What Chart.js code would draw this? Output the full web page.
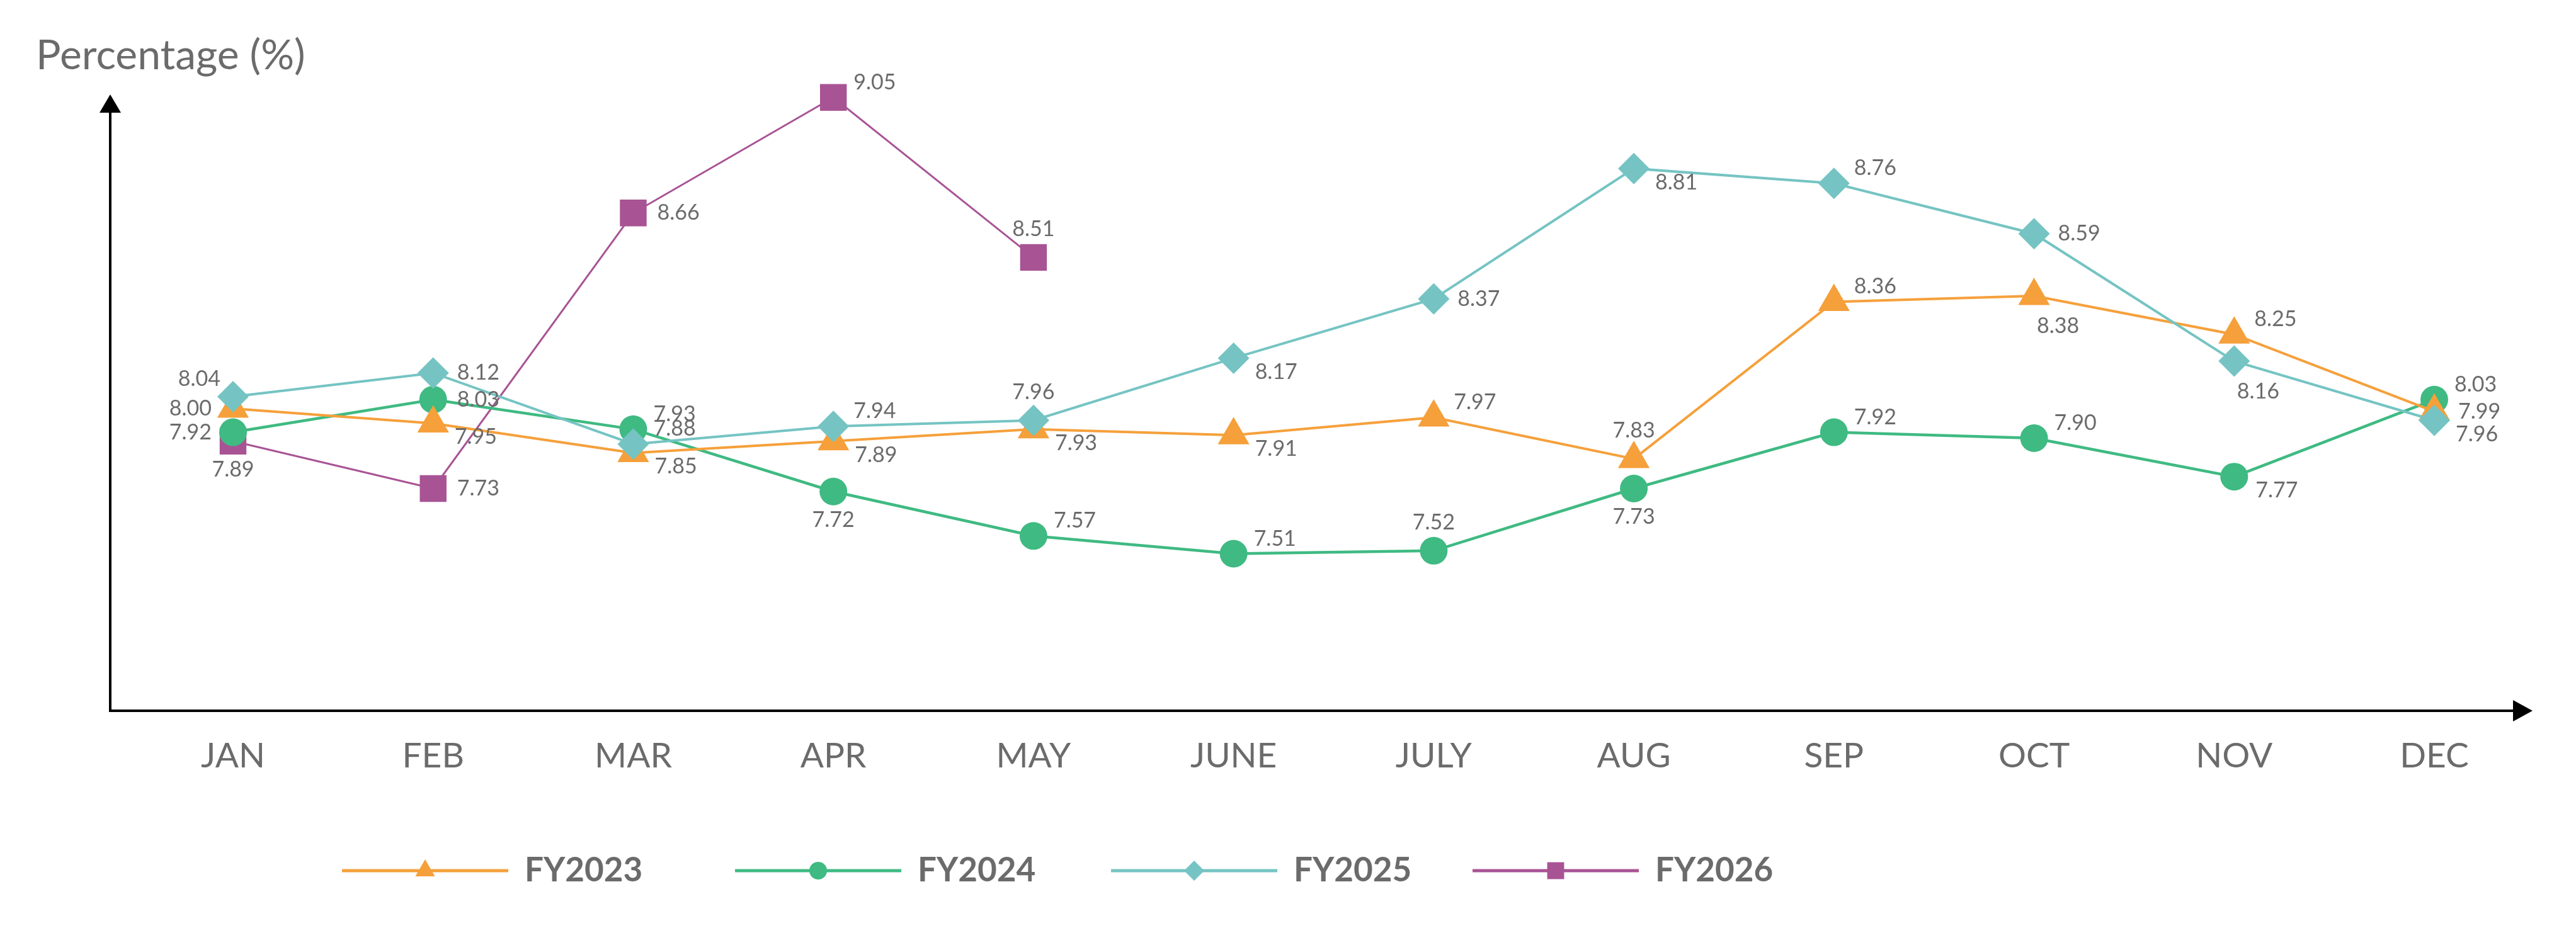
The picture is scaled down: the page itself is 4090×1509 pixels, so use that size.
<!DOCTYPE html>
<html>
<head>
<meta charset="utf-8">
<script src="https://cdn.jsdelivr.net/npm/chart.js@4.4.1/dist/chart.umd.min.js"></script>
<style>
html, body { margin: 0; padding: 0; background: #fff; }
</style>
</head>
<body>
<canvas id="rateChart" width="4090" height="1509"></canvas>
<script>
const months = ['JAN', 'FEB', 'MAR', 'APR', 'MAY', 'JUNE', 'JULY', 'AUG', 'SEP', 'OCT', 'NOV', 'DEC'];

const fy2023 = [8.00, 7.95, 7.85, 7.89, 7.93, 7.91, 7.97, 7.83, 8.36, 8.38, 8.25, 7.99];
const fy2024 = [7.92, 8.03, 7.93, 7.72, 7.57, 7.51, 7.52, 7.73, 7.92, 7.90, 7.77, 8.03];
const fy2025 = [8.04, 8.12, 7.88, 7.94, 7.96, 8.17, 8.37, 8.81, 8.76, 8.59, 8.16, 7.96];
const fy2026 = [7.89, 7.73, 8.66, 9.05, 8.51];

const seriesNames = ['FY2023', 'FY2024', 'FY2025', 'FY2026'];

// where each value label sits around its point
const labels2023 = ['l', 'rb', 'rb', 'rb', 'rb', 'rb', 'ra', 'a', 'ra', 'br', 'ra', 'r'];
const labels2024 = ['l', 'r', 'ra', 'b', 'ra', 'ra', 'a', 'b', 'ra', 'ra', 'rb', 'ra'];
const labels2025 = ['la', 'r', 'ra', 'ra', 'a', 'rb', 'r', 'rb', 'ra', 'r', 'br', 'rb'];
const labels2026 = ['b', 'r', 'r', 'ra', 'a'];

const TEXT = '#6b6b6b';
const FONT = 'Lato, "Open Sans", sans-serif';

const placement = {
    r:  { align: 'left',   dx: 38,  dy: 0 },
    ra: { align: 'left',   dx: 32,  dy: -24 },
    rb: { align: 'left',   dx: 34,  dy: 22 },
    a:  { align: 'center', dx: 0,   dy: -45 },
    b:  { align: 'center', dx: 0,   dy: 45 },
    l:  { align: 'right',  dx: -34, dy: 0 },
    la: { align: 'right',  dx: -20, dy: -28 },
    br: { align: 'center', dx: 38,  dy: 48 }
};

const valueLabels = {
    id: 'valueLabels',
    afterDatasetsDraw(chart) {
        const ctx = chart.ctx;
        ctx.save();
        ctx.font = '34px ' + FONT;
        ctx.fillStyle = TEXT;
        ctx.textBaseline = 'middle';
        chart.data.datasets.forEach((ds, i) => {
            const meta = chart.getDatasetMeta(i);
            meta.data.forEach((pt, j) => {
                const p = placement[ds.labelPos[j]];
                ctx.textAlign = p.align;
                ctx.fillText(ds.data[j].toFixed(2), pt.x + p.dx, pt.y + p.dy);
            });
        });
        ctx.restore();
    }
};

const arrowAxes = {
    id: 'arrowAxes',
    beforeDatasetsDraw(chart) {
        const ctx = chart.ctx;
        const area = chart.chartArea;
        const ax = area.left - 195;
        const ay = area.bottom;
        const tipX = area.right + 156;
        const tipY = area.top;
        ctx.save();
        ctx.strokeStyle = '#000';
        ctx.fillStyle = '#000';
        ctx.lineWidth = 4;
        ctx.beginPath();
        ctx.moveTo(ax, ay + 2);
        ctx.lineTo(ax, tipY + 26);
        ctx.moveTo(ax - 2, ay);
        ctx.lineTo(tipX - 28, ay);
        ctx.stroke();
        ctx.beginPath();
        ctx.moveTo(ax, tipY);
        ctx.lineTo(ax - 17, tipY + 29);
        ctx.lineTo(ax + 17, tipY + 29);
        ctx.closePath();
        ctx.fill();
        ctx.beginPath();
        ctx.moveTo(tipX, ay);
        ctx.lineTo(tipX - 31, ay - 17);
        ctx.lineTo(tipX - 31, ay + 17);
        ctx.closePath();
        ctx.fill();
        ctx.restore();
    }
};

const titleAndLegend = {
    id: 'titleAndLegend',
    afterDraw(chart) {
        const ctx = chart.ctx;
        ctx.save();
        ctx.fillStyle = TEXT;
        ctx.font = '66px ' + FONT;
        ctx.textAlign = 'left';
        ctx.textBaseline = 'alphabetic';
        ctx.fillText('Percentage (%)', 57, 110);

        const legendX = [543, 1167, 1764, 2338];
        const legendY = 1383;
        chart.data.datasets.forEach((ds, i) => {
            const x0 = legendX[i];
            ctx.strokeStyle = ds.borderColor;
            ctx.lineWidth = 5;
            ctx.beginPath();
            ctx.moveTo(x0, legendY);
            ctx.lineTo(x0 + 264, legendY);
            ctx.stroke();
            ctx.fillStyle = ds.backgroundColor;
            Chart.helpers.drawPoint(ctx, {
                pointStyle: ds.pointStyle,
                radius: ds.legendRadius,
                rotation: 0,
                borderWidth: 0
            }, x0 + 132, legendY);
            ctx.fillStyle = TEXT;
            ctx.font = 'bold 53px ' + FONT;
            ctx.textBaseline = 'middle';
            ctx.fillText(ds.label, x0 + 290, legendY);
        });
        ctx.restore();
    }
};

function makeSeries(name, values, color, style, radius, legendRadius, width, pos, order) {
    return {
        label: name,
        data: values,
        borderColor: color,
        backgroundColor: color,
        borderWidth: width,
        pointStyle: style,
        pointRadius: radius,
        pointHoverRadius: radius,
        pointBorderWidth: 0,
        pointBackgroundColor: color,
        legendRadius: legendRadius,
        labelPos: pos,
        tension: 0,
        clip: false,
        order: order
    };
}

const ctx = document.getElementById('rateChart');

new Chart(ctx, {
    type: 'line',
    data: {
        labels: months,
        datasets: [
            makeSeries(seriesNames[0], fy2023, '#f5a03b', 'triangle', 29, 18, 4, labels2023, 2),
            makeSeries(seriesNames[1], fy2024, '#3fba82', 'circle', 22, 14, 4.5, labels2024, 3),
            makeSeries(seriesNames[2], fy2025, '#75c4c3', 'rectRot', 25, 16, 4, labels2025, 1),
            makeSeries(seriesNames[3], fy2026, '#a85394', 'rect', 30, 19, 3, labels2026, 4)
        ]
    },
    options: {
        responsive: false,
        animation: false,
        events: [],
        layout: {
            padding: { left: 370, right: 225, top: 150, bottom: 270 }
        },
        plugins: {
            legend: { display: false },
            tooltip: { enabled: false }
        },
        scales: {
            x: {
                offset: false,
                grid: { display: false, drawTicks: false },
                border: { display: false },
                ticks: {
                    color: TEXT,
                    font: { family: FONT, size: 55 },
                    padding: 39,
                    maxRotation: 0,
                    autoSkip: false
                },
                afterFit(scale) {
                    scale.height = 110;
                }
            },
            y: {
                display: false,
                min: 6.98,
                max: 9.06
            }
        }
    },
    plugins: [arrowAxes, valueLabels, titleAndLegend]
});
</script>
</body>
</html>
